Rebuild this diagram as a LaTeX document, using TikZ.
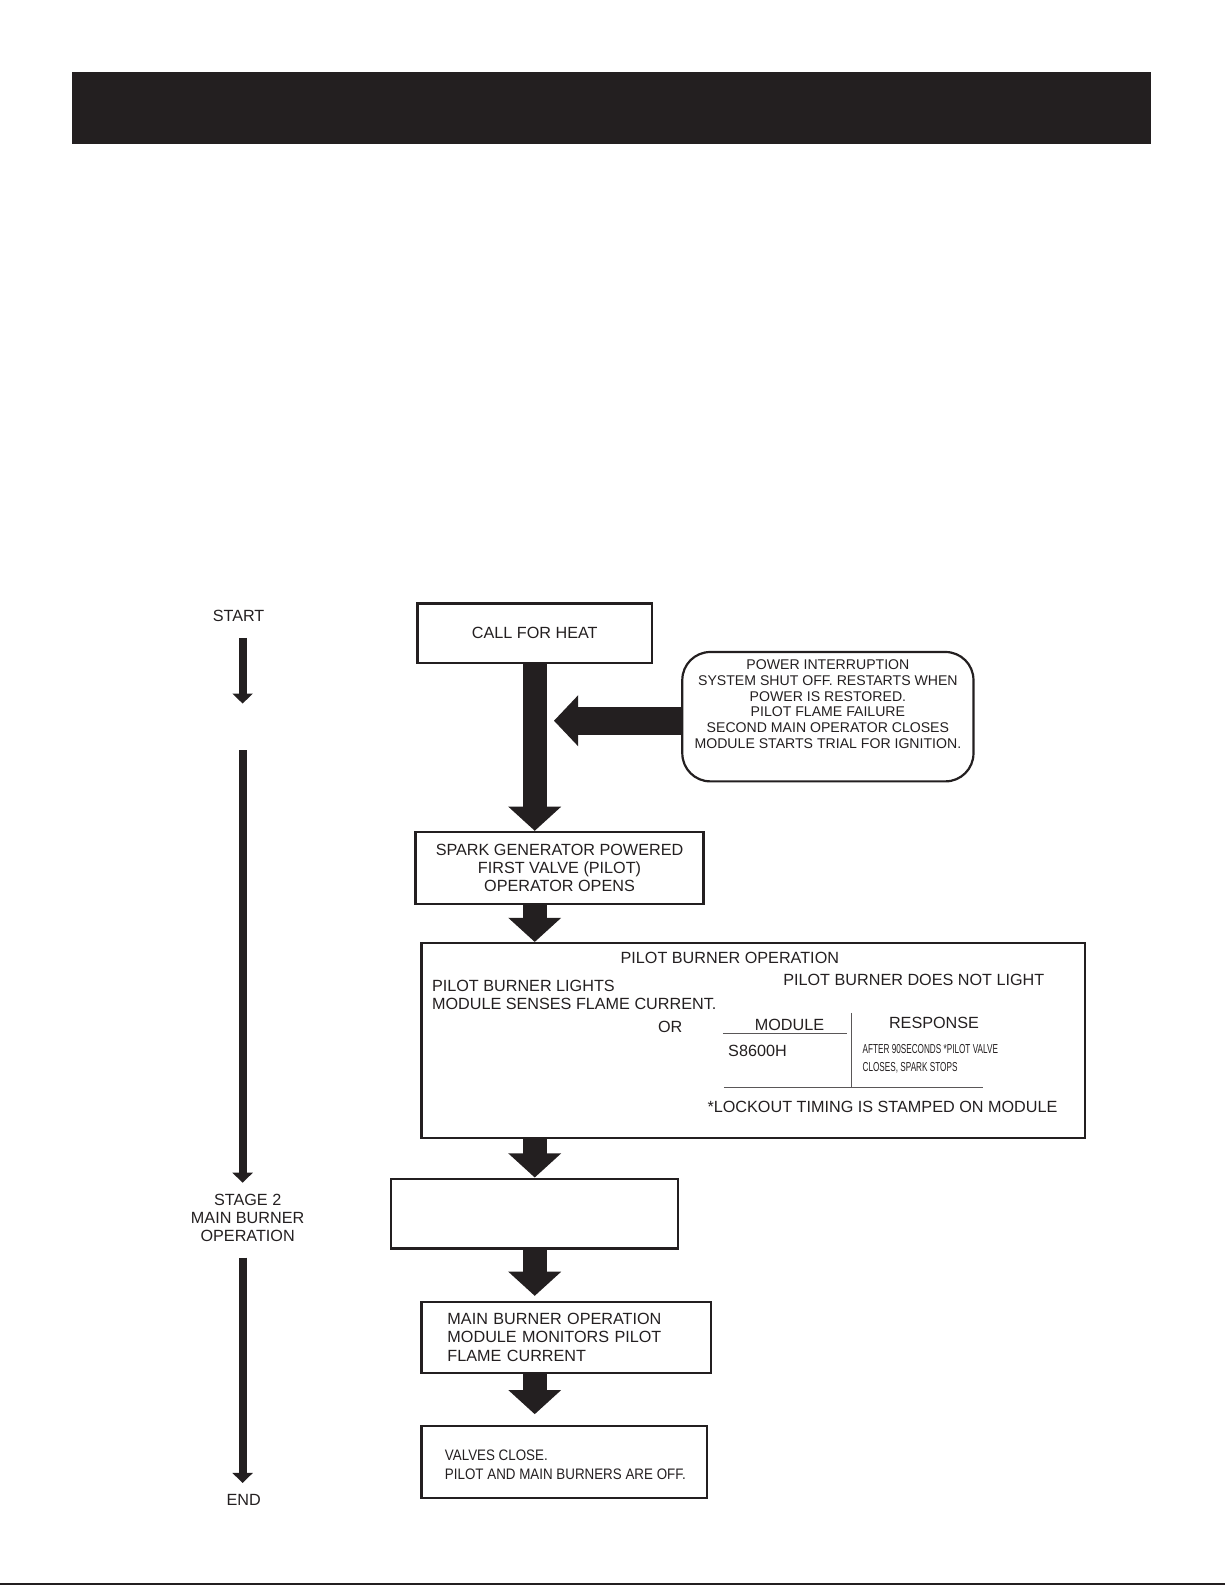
\documentclass[tikz,border=0pt]{standalone}
\usepackage{fontspec}
\setmainfont{Liberation Sans}
\newfontfamily\narrowsans[FakeStretch=0.63]{Liberation Sans}
\newfontfamily\condsans[FakeStretch=0.88]{Liberation Sans}
\usetikzlibrary{arrows.meta}
\definecolor{ink}{HTML}{231F20}

\begin{document}
\begin{tikzpicture}[
  x=0.5055pt, y=-0.5055pt,
  block/.style={rectangle, draw=ink, line width=1.1pt, inner sep=0pt},
  alertbox/.style={rectangle, rounded corners=14pt, draw=ink, line width=1.1pt, minimum width=145.6pt, minimum height=64.7pt},
  plain/.style={text=ink, font=\fontsize{8.1}{9.1}\selectfont, align=center, inner sep=0pt},
  bigarrow/.style={draw=ink, line width=12.1pt, -{Triangle[width=25.8pt,length=12.1pt]}},
  sidearrow/.style={draw=ink, line width=14.2pt, -{Triangle[width=24.8pt,length=12.1pt]}},
  thinarrow/.style={draw=ink, line width=4pt, -{Triangle[width=10pt,length=5pt]}},
  tableline/.style={draw=ink!75, line width=0.5pt}
]
\useasboundingbox (0,0) rectangle (1212,1568);

% title bar and page rule
\fill[ink] (71,71) rectangle (1139,142);
\draw[ink, line width=1.2pt] (0,1567) -- (1212,1567);

% left column
\node[plain] (start) at (236,609) {START};
\coordinate (startfoot) at (240,631);
\coordinate (gaptop) at (240,696);
\coordinate (gapfoot) at (240,742);
\coordinate (stagetop) at (240,1170);
\node[plain] (stage) at (245,1205) {STAGE 2\\MAIN BURNER\\OPERATION};
\coordinate (stagefoot) at (240,1244);
\coordinate (endtop) at (240,1467);
\node[plain] (finish) at (241,1484) {END};

\draw[thinarrow] (startfoot) -- (gaptop);
\draw[thinarrow] (gapfoot) -- (stagetop);
\draw[thinarrow] (stagefoot) -- (endtop);

% flow boxes
\node[block, plain, minimum width=117.3pt, minimum height=29.8pt] (call) at (529,626.5) {CALL FOR HEAT};
\node[alertbox] (alert) at (819,709) {};
\node[plain, font=\fontsize{7.05}{7.95}\selectfont] (alerttxt) at ([yshift=6.3pt]alert.center)
  {POWER INTERRUPTION\\SYSTEM SHUT OFF. RESTARTS WHEN\\POWER IS RESTORED.\\PILOT FLAME FAILURE\\SECOND MAIN OPERATOR CLOSES\\MODULE STARTS TRIAL FOR IGNITION.};
\node[block, plain, minimum width=144.1pt, minimum height=35.9pt] (spark) at (553.5,858.5)
  {SPARK GENERATOR POWERED\\FIRST VALVE (PILOT)\\OPERATOR OPENS};
\node[block, minimum width=331.6pt, minimum height=97.6pt] (pilot) at (745,1029.5) {};
\node[block, minimum width=143.6pt, minimum height=34.9pt] (stagebox) at (529,1200.5) {};
\node[block, plain, align=left, inner xsep=13pt, text width=118.6pt, minimum height=35.4pt] (monitor) at (560,1323)
  {MAIN BURNER OPERATION\\MODULE MONITORS PILOT\\FLAME CURRENT};
\node[block, minimum width=142.6pt, minimum height=35.9pt] (valves) at (558,1446.5) {};
\node[plain, anchor=west, align=left, font=\condsans\fontsize{7.6}{9.1}\selectfont] (valvestxt)
  at ([xshift=12.1pt, yshift=-1.3pt]valves.west) {VALVES CLOSE.\\PILOT AND MAIN BURNERS ARE OFF.};

% pilot burner operation
\node[plain] (pbop) at (722,948) {PILOT BURNER OPERATION};
\node[plain] (nolight) at (904,969) {PILOT BURNER DOES NOT LIGHT};
\node[plain, anchor=west, align=left] (lights) at (427,984) {PILOT BURNER LIGHTS\\MODULE SENSES FLAME CURRENT.};
\node[plain] (or) at (663,1016) {OR};
\node[plain] (modhead) at (781,1014) {MODULE};
\node[plain] (resphead) at (924,1012) {RESPONSE};
\node[plain, anchor=west] (model) at (720,1040) {S8600H};
\node[plain, anchor=west, align=left, font=\narrowsans\fontsize{6.5}{9}\selectfont] (resp) at (853,1047)
  {AFTER 90SECONDS *PILOT VALVE\\CLOSES, SPARK STOPS};
\node[plain] (lockout) at (873,1095) {*LOCKOUT TIMING IS STAMPED ON MODULE};
\draw[tableline] (715,1022) -- (838,1022);
\draw[tableline] (842,1002) -- (842,1076);
\draw[tableline] (716,1076) -- (972,1076);

% arrows
\coordinate (sidetip) at (548,713);
\draw[sidearrow] (alert.west |- sidetip) -- (sidetip);
\draw[bigarrow] (call.south) -- (call.south |- spark.north);
\draw[bigarrow] (call.south |- spark.south) -- (call.south |- pilot.north);
\draw[bigarrow] (call.south |- pilot.south) -- (call.south |- stagebox.north);
\draw[bigarrow, shorten >=2.5pt] (call.south |- stagebox.south) -- (call.south |- monitor.north);
\draw[bigarrow, shorten >=5.5pt] (call.south |- monitor.south) -- (call.south |- valves.north);
\end{tikzpicture}
\end{document}
